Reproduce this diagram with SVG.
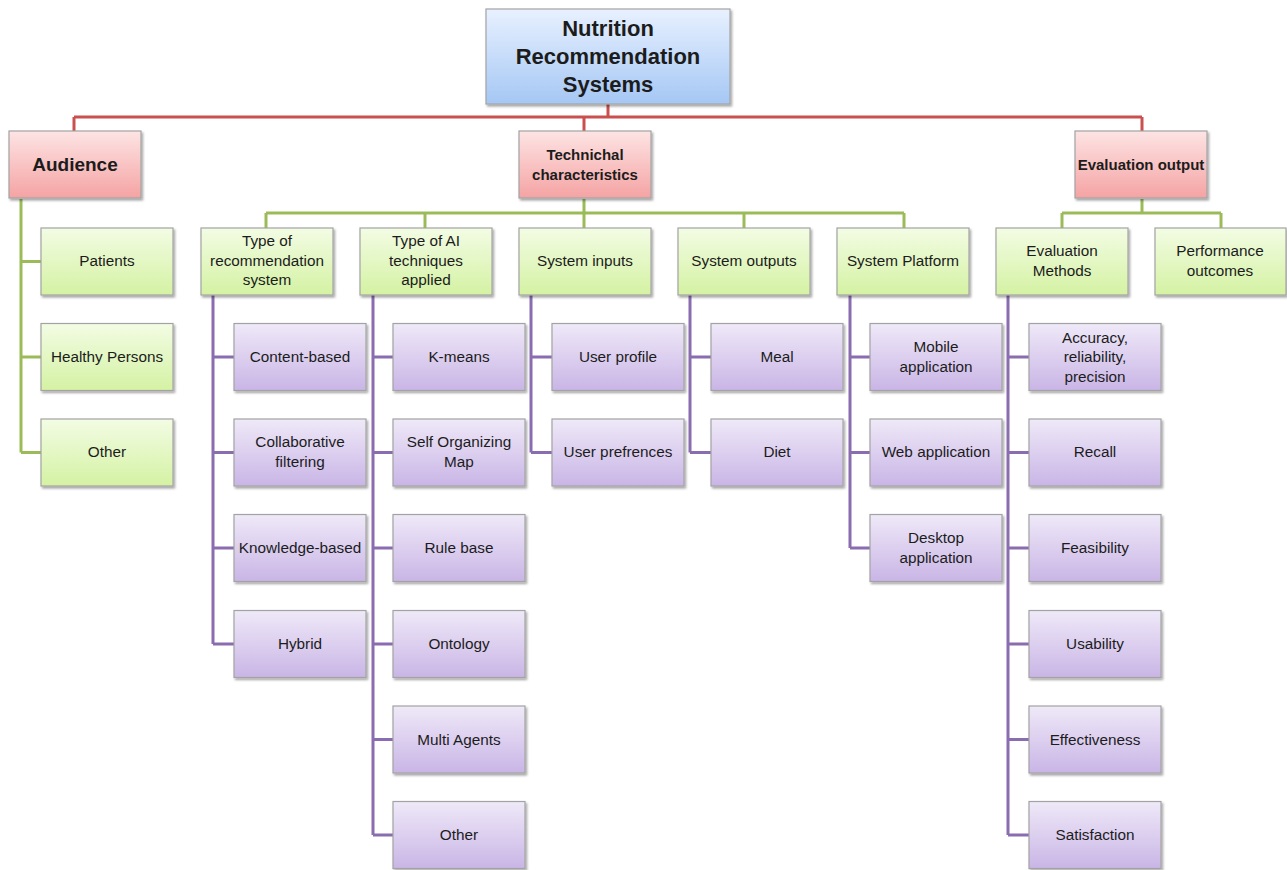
<svg xmlns="http://www.w3.org/2000/svg" width="1287" height="870" viewBox="0 0 1287 870">
<defs>
<linearGradient id="gBlue" x1="0" y1="0" x2="0" y2="1"><stop offset="0" stop-color="#e8f1ff"/><stop offset="1" stop-color="#a5c7f4"/></linearGradient>
<linearGradient id="gRed" x1="0" y1="0" x2="0" y2="1"><stop offset="0" stop-color="#fde4e4"/><stop offset="1" stop-color="#f5a3a3"/></linearGradient>
<linearGradient id="gGreen" x1="0" y1="0" x2="0" y2="1"><stop offset="0" stop-color="#f3fce4"/><stop offset="1" stop-color="#d4f2a3"/></linearGradient>
<linearGradient id="gPurple" x1="0" y1="0" x2="0" y2="1"><stop offset="0" stop-color="#efe9f8"/><stop offset="1" stop-color="#c9b5e6"/></linearGradient>
<filter id="sh" x="-10%" y="-10%" width="125%" height="130%"><feDropShadow dx="1.5" dy="2" stdDeviation="1.2" flood-color="#000" flood-opacity="0.35"/></filter>
</defs>
<style>
.box{stroke:#a3a3a3;stroke-width:1.2;filter:url(#sh)}
.blue{fill:url(#gBlue)}
.red{fill:url(#gRed)}
.green{fill:url(#gGreen)}
.purple{fill:url(#gPurple)}
text{font-family:"Liberation Sans",Arial,sans-serif;fill:#1c1c1c;text-anchor:middle}
.t{font-size:15.3px}
.b{font-size:15px;font-weight:bold}
.big{font-size:22px;font-weight:bold}
.aud{font-size:19px;font-weight:bold}
.cr{stroke:#c9504e;stroke-width:3;fill:none}
.cg{stroke:#9bbb59;stroke-width:3;fill:none}
.cp{stroke:#8a6cb0;stroke-width:3;fill:none}
</style>
<rect width="1287" height="870" fill="#ffffff"/>
<g id="connectors">
<path class="cr" d="M608 104V117M74 117H1142M74 117V131M584 117V131M1142 117V131"/>
<path class="cg" d="M584 199V213M266 213H904M266 213V228M425 213V228M584 213V228M744 213V228M904 213V228"/>
<path class="cg" d="M1142 199V213M1062 213H1221M1062 213V228M1221 213V228"/>
<path class="cg" d="M21 199V452.5M21 261.5H41M21 357H41M21 452.5H41"/>
<path class="cp" d="M213 295V644M213 357H234M213 452.5H234M213 548H234M213 644H234"/>
<path class="cp" d="M373 295V835M373 357H393M373 452.5H393M373 548H393M373 644H393M373 739.5H393M373 835H393"/>
<path class="cp" d="M531 295V452.5M531 357H552M531 452.5H552"/>
<path class="cp" d="M690 295V452.5M690 357H711M690 452.5H711"/>
<path class="cp" d="M850 295V548M850 357H870M850 452.5H870M850 548H870"/>
<path class="cp" d="M1008 295V835M1008 357H1029M1008 452.5H1029M1008 548H1029M1008 644H1029M1008 739.5H1029M1008 835H1029"/>
</g>
<g id="root"><rect class="box blue" x="486" y="9" width="244" height="95"/><text class="big" x="608" y="36">Nutrition</text><text class="big" x="608" y="64">Recommendation</text><text class="big" x="608" y="92">Systems</text></g>
<g id="audience"><rect class="box red" x="9" y="131" width="132" height="67"/><text class="aud" x="75" y="171">Audience</text></g>
<g id="technical"><rect class="box red" x="519" y="131" width="132" height="67"/><text class="b" x="585" y="160">Technichal</text><text class="b" x="585" y="180">characteristics</text></g>
<g id="evaluation"><rect class="box red" x="1075" y="131" width="132" height="67"/><text class="b" x="1141" y="170">Evaluation output</text></g>

<g id="patients"><rect class="box green" x="41" y="228" width="132" height="67"/><text class="t" x="107" y="266">Patients</text></g>
<g id="healthy"><rect class="box green" x="41" y="323.5" width="132" height="67"/><text class="t" x="107" y="362">Healthy Persons</text></g>
<g id="aud-other"><rect class="box green" x="41" y="419" width="132" height="67"/><text class="t" x="107" y="457">Other</text></g>

<g id="type-rec"><rect class="box green" x="201" y="228" width="132" height="67"/><text class="t" x="267" y="246">Type of</text><text class="t" x="267" y="265.5">recommendation</text><text class="t" x="267" y="285">system</text></g>
<g id="type-ai"><rect class="box green" x="360" y="228" width="132" height="67"/><text class="t" x="426" y="246">Type of AI</text><text class="t" x="426" y="265.5">techniques</text><text class="t" x="426" y="285">applied</text></g>
<g id="inputs"><rect class="box green" x="519" y="228" width="132" height="67"/><text class="t" x="585" y="266">System inputs</text></g>
<g id="outputs"><rect class="box green" x="678" y="228" width="132" height="67"/><text class="t" x="744" y="266">System outputs</text></g>
<g id="platform"><rect class="box green" x="837" y="228" width="132" height="67"/><text class="t" x="903" y="266">System Platform</text></g>
<g id="eval-methods"><rect class="box green" x="996" y="228" width="132" height="67"/><text class="t" x="1062" y="256">Evaluation</text><text class="t" x="1062" y="275.5">Methods</text></g>
<g id="performance"><rect class="box green" x="1155" y="228" width="131" height="67"/><text class="t" x="1220" y="256">Performance</text><text class="t" x="1220" y="275.5">outcomes</text></g>

<g id="content-based"><rect class="box purple" x="234" y="323.5" width="132" height="67"/><text class="t" x="300" y="362">Content-based</text></g>
<g id="collaborative"><rect class="box purple" x="234" y="419" width="132" height="67"/><text class="t" x="300" y="447">Collaborative</text><text class="t" x="300" y="467">filtering</text></g>
<g id="knowledge"><rect class="box purple" x="234" y="514.5" width="132" height="67"/><text class="t" x="300" y="553">Knowledge-based</text></g>
<g id="hybrid"><rect class="box purple" x="234" y="610.5" width="132" height="67"/><text class="t" x="300" y="649">Hybrid</text></g>

<g id="kmeans"><rect class="box purple" x="393" y="323.5" width="132" height="67"/><text class="t" x="459" y="362">K-means</text></g>
<g id="som"><rect class="box purple" x="393" y="419" width="132" height="67"/><text class="t" x="459" y="447">Self Organizing</text><text class="t" x="459" y="467">Map</text></g>
<g id="rulebase"><rect class="box purple" x="393" y="514.5" width="132" height="67"/><text class="t" x="459" y="553">Rule base</text></g>
<g id="ontology"><rect class="box purple" x="393" y="610.5" width="132" height="67"/><text class="t" x="459" y="649">Ontology</text></g>
<g id="multiagents"><rect class="box purple" x="393" y="706" width="132" height="67"/><text class="t" x="459" y="744.5">Multi Agents</text></g>
<g id="ai-other"><rect class="box purple" x="393" y="801.5" width="132" height="67"/><text class="t" x="459" y="840">Other</text></g>

<g id="userprofile"><rect class="box purple" x="552" y="323.5" width="132" height="67"/><text class="t" x="618" y="362">User profile</text></g>
<g id="userpref"><rect class="box purple" x="552" y="419" width="132" height="67"/><text class="t" x="618" y="457">User prefrences</text></g>

<g id="meal"><rect class="box purple" x="711" y="323.5" width="132" height="67"/><text class="t" x="777" y="362">Meal</text></g>
<g id="diet"><rect class="box purple" x="711" y="419" width="132" height="67"/><text class="t" x="777" y="457">Diet</text></g>

<g id="mobile"><rect class="box purple" x="870" y="323.5" width="132" height="67"/><text class="t" x="936" y="352">Mobile</text><text class="t" x="936" y="372">application</text></g>
<g id="web"><rect class="box purple" x="870" y="419" width="132" height="67"/><text class="t" x="936" y="457">Web application</text></g>
<g id="desktop"><rect class="box purple" x="870" y="514.5" width="132" height="67"/><text class="t" x="936" y="543">Desktop</text><text class="t" x="936" y="563">application</text></g>

<g id="accuracy"><rect class="box purple" x="1029" y="323.5" width="132" height="67"/><text class="t" x="1095" y="342.5">Accuracy,</text><text class="t" x="1095" y="362">reliability,</text><text class="t" x="1095" y="381.5">precision</text></g>
<g id="recall"><rect class="box purple" x="1029" y="419" width="132" height="67"/><text class="t" x="1095" y="457">Recall</text></g>
<g id="feasibility"><rect class="box purple" x="1029" y="514.5" width="132" height="67"/><text class="t" x="1095" y="553">Feasibility</text></g>
<g id="usability"><rect class="box purple" x="1029" y="610.5" width="132" height="67"/><text class="t" x="1095" y="649">Usability</text></g>
<g id="effectiveness"><rect class="box purple" x="1029" y="706" width="132" height="67"/><text class="t" x="1095" y="744.5">Effectiveness</text></g>
<g id="satisfaction"><rect class="box purple" x="1029" y="801.5" width="132" height="67"/><text class="t" x="1095" y="840">Satisfaction</text></g>
</svg>
